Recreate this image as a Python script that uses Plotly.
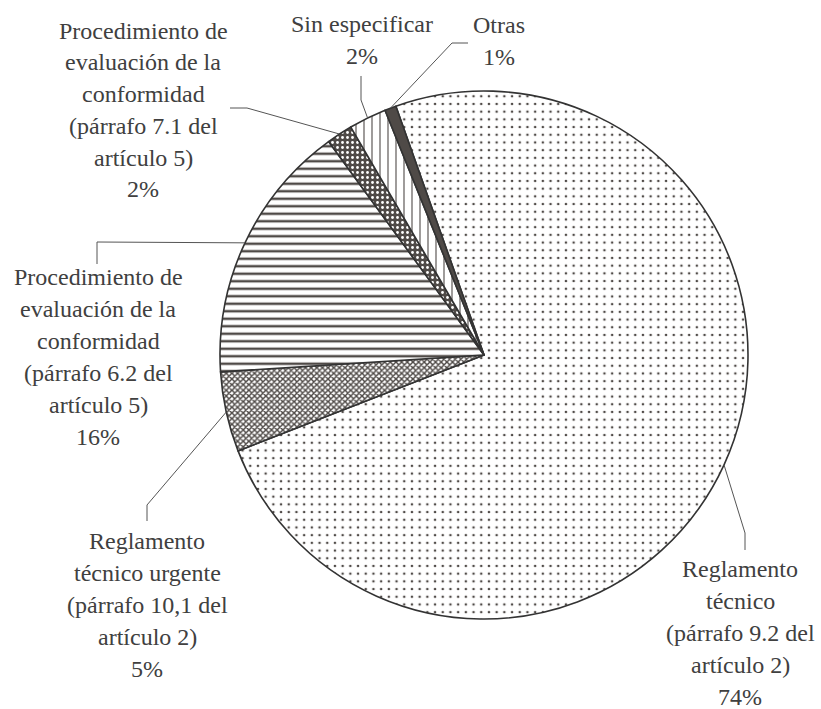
import math
import plotly.graph_objects as go

# ---- data ----
categories = [
    ["Reglamento", "técnico", "(párrafo 9.2 del", "artículo 2)"],
    ["Reglamento", "técnico urgente", "(párrafo 10,1 del", "artículo 2)"],
    ["Procedimiento de", "evaluación de la", "conformidad", "(párrafo 6.2 del", "artículo 5)"],
    ["Procedimiento de", "evaluación de la", "conformidad", "(párrafo 7.1 del", "artículo 5)"],
    ["Sin especificar"],
    ["Otras"],
]
shares = [74.5, 4.9, 16.0, 1.6, 2.3, 0.7]
pct_labels = ["74%", "5%", "16%", "2%", "2%", "1%"]

# ---- layout / style ----
W, H = 821, 709
CX, CY, R = 484, 355, 264
ROT = -19.5
DARK = "#4f4a47"
TXT = "#404040"
FONT = "Liberation Serif"
FSIZE = 24
LINE_H = 31.8

# label block centres (px) and leader elbows (px)
label_pos = [(740, 633), (147, 605), (98, 357), (143, 110), (362, 40), (499, 41)]
elbows = [
    [(745, 533), (745, 550)],
    [(147, 505), (147, 521)],
    [(97, 242), (97, 264)],
    [(247, 108), (230, 108)],
    [(361, 100), (361, 76)],
    [(452, 43), (468, 43)],
]

colors = ["white", "white", "white", DARK, "white", DARK]
pat_shape = [".", "x", "-", ".", "|", ""]
pat_fg = [DARK, DARK, DARK, "white", "#5e5957", DARK]
pat_bg = ["white", "white", "white", DARK, "white", DARK]
pat_size = [7.7, 4, 7.5, 5, 8, 8]
pat_sol = [0.09, 0.6, 0.33, 0.25, 0.15, 0.3]

fig = go.Figure(
    go.Pie(
        labels=[" ".join(c) for c in categories],
        values=shares,
        sort=False,
        direction="clockwise",
        rotation=ROT,
        textinfo="none",
        hoverinfo="label+percent",
        marker=dict(
            colors=colors,
            line=dict(color="#333333", width=1.6),
            pattern=dict(
                shape=pat_shape,
                fgcolor=pat_fg,
                bgcolor=pat_bg,
                size=pat_size,
                solidity=pat_sol,
                fillmode="replace",
            ),
        ),
        domain=dict(
            x=[(CX - R) / W, (CX + R) / W],
            y=[(H - CY - R) / H, (H - CY + R) / H],
        ),
        showlegend=False,
    )
)

total = sum(shares)
cum = 0.0
annotations = []
shapes = []
for i, v in enumerate(shares):
    mid = math.radians(ROT + 360.0 * (cum + v / 2.0) / total)
    cum += v
    ex = CX + R * math.sin(mid)
    ey = CY - R * math.cos(mid)
    pts = [(ex, ey)] + elbows[i]
    path = "M " + " L ".join(f"{px / W:.5f},{1 - py / H:.5f}" for px, py in pts)
    shapes.append(dict(type="path", path=path, xref="paper", yref="paper",
                       line=dict(color="#555555", width=1)))
    lines = categories[i] + [pct_labels[i]]
    n = len(lines)
    lx, ly = label_pos[i]
    for k, line in enumerate(lines):
        yk = ly + (k - (n - 1) / 2.0) * LINE_H
        annotations.append(dict(
            text=line,
            x=lx / W, y=1 - yk / H, xref="paper", yref="paper",
            xanchor="center", yanchor="middle", align="center",
            showarrow=False,
            font=dict(family=FONT, size=FSIZE, color=TXT),
        ))

fig.update_layout(
    width=W, height=H,
    margin=dict(l=0, r=0, t=0, b=0),
    paper_bgcolor="white",
    plot_bgcolor="white",
    font=dict(family=FONT, color=TXT, size=FSIZE),
    annotations=annotations,
    shapes=shapes,
)

post = (
    "document.body.style.margin='0';"
    "document.body.style.overflow='hidden';"
    "var st=document.createElement('style');"
    "st.textContent=\"text, tspan { font-family: 'Liberation Serif', 'Tinos', serif !important; }\";"
    "document.head.appendChild(st);"
)

fig.write_html(
    "out.html",
    config={"displayModeBar": False},
    post_script=post,
)
